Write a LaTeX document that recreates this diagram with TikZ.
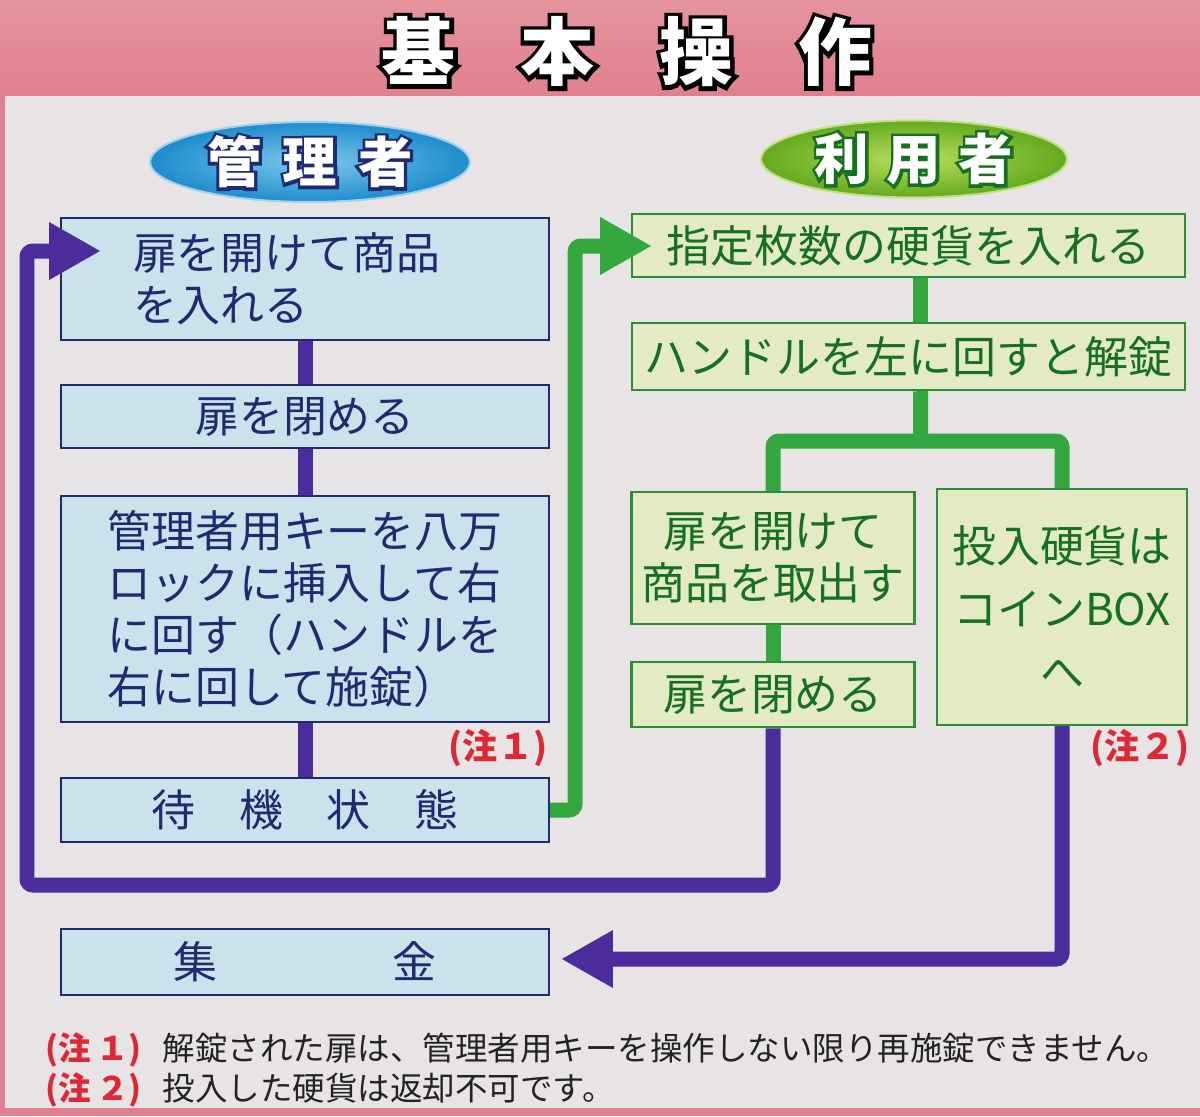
\documentclass[tikz,border=0pt]{standalone}
\usepackage{fontspec}
\usetikzlibrary{arrows.meta,shapes.geometric}
\newfontfamily\jp{Noto Sans CJK JP}
\newfontfamily\jprim{Noto Sans CJK JP}[FakeBold=11]
\definecolor{paper}{RGB}{232,228,229}
\definecolor{bandpink}{RGB}{224,128,142}
\definecolor{bandlight}{RGB}{238,208,212}
\definecolor{adminfill}{RGB}{200,227,235}
\definecolor{admintext}{RGB}{32,42,112}
\definecolor{adminblue}{RGB}{30,140,205}
\definecolor{adminsky}{RGB}{125,200,235}
\definecolor{adminrim}{RGB}{160,210,235}
\definecolor{userfill}{RGB}{228,234,196}
\definecolor{usertext}{RGB}{22,112,34}
\definecolor{userline}{RGB}{52,168,62}
\definecolor{userdark}{RGB}{100,170,30}
\definecolor{userlight}{RGB}{185,222,95}
\definecolor{userrim}{RGB}{190,225,130}
\definecolor{flowpurple}{RGB}{76,44,156}
\definecolor{notered}{RGB}{222,40,52}
\definecolor{footblack}{RGB}{35,35,35}
\newcommand{\boxFont}{\fontsize{25}{29.5}\selectfont}
\newcommand{\noteFont}{\fontsize{18.5}{22}\selectfont}
\newcommand{\titleText}{基\hspace{37pt}本\hspace{37pt}操\hspace{37pt}作}
\newcommand{\adminText}{管\hspace{12pt}理\hspace{12pt}者}
\newcommand{\userText}{利\hspace{10pt}用\hspace{10pt}者}

\begin{document}
\begin{tikzpicture}[x=0.02cm, y=-0.02cm]
  \tikzset{adminbox/.style={draw=admintext, line width=0.05cm, fill=adminfill,
      text=admintext, inner sep=0pt, font=\jp\boxFont},
    userbox/.style={draw=userline!85!black, line width=0.05cm, fill=userfill,
      text=usertext, inner sep=0pt, font=\jp\boxFont},
    purpleflow/.style={draw=flowpurple, line width=0.3cm, rounded corners=0.12cm},
    greenflow/.style={draw=userline, line width=0.3cm, rounded corners=0.12cm},
    bigtip/.style={-{Triangle[length=1.04cm,width=1.08cm]}},
    notemark/.style={text=notered, font=\jp\bfseries\fontsize{20}{24}\selectfont},
    titlefont/.style={font=\bfseries\fontsize{42}{46}\selectfont},
    tagfont/.style={font=\bfseries\fontsize{31}{31}\selectfont}}
  \useasboundingbox (0,0) rectangle (1200,1116);
  \fill[paper] (0,0) rectangle (1200,1116);
  \shade[top color=bandpink!85, middle color=bandlight, bottom color=bandpink] (0,0) rectangle (1200,95);
  \fill[bandpink] (0,95) rectangle (5,1116);
  \fill[bandpink] (0,1108) rectangle (1200,1116);

  % title with dark rim
  \node[titlefont, text=black] (titleRim) at (627,52) {\jprim\titleText};
  \node[titlefont, text=white] (title) at (627,52) {\jp\titleText};

  \node[ellipse, minimum width=6.4cm, minimum height=1.6cm, inner color=adminsky,
    outer color=adminblue, draw=adminrim, line width=0.04cm] (adminTag) at (310,162) {};
  \node[tagfont, text=admintext] (adminRim) at (adminTag) {\jprim\adminText};
  \node[tagfont, text=white] (adminName) at (adminTag) {\jp\adminText};
  \node[ellipse, minimum width=6.12cm, minimum height=1.54cm, inner color=userlight,
    outer color=userdark, draw=userrim, line width=0.04cm] (userTag) at (914,159) {};
  \node[tagfont, text=usertext] (userRim) at (userTag) {\jprim\userText};
  \node[tagfont, text=white] (userName) at (userTag) {\jp\userText};

  % admin side
  \node[adminbox, minimum width=9.76cm, minimum height=2.44cm, align=left, text width=6.88cm]
    (fillA) at (305,279) {扉を開けて商品\\を入れる};
  \node[adminbox, minimum width=9.76cm, minimum height=1.26cm] (closeA) at (305,416.5) {扉を閉める};
  \node[adminbox, minimum width=9.76cm, minimum height=4.52cm, align=left] (lockA) at (305,609)
    {管理者用キーを八万\\ロックに挿入して右\\に回す（ハンドルを\\右に回して施錠）};
  \node[adminbox, minimum width=9.76cm, minimum height=1.28cm] (standby) at (305,810) {待　機　状　態};
  \node[adminbox, minimum width=9.76cm, minimum height=1.32cm] (collect) at (305,962) {集　　　　金};

  % user side
  \node[userbox, minimum width=11.06cm, minimum height=1.26cm] (insert) at (908.5,245.5)
    {指定枚数の硬貨を入れる};
  \node[userbox, minimum width=11.06cm, minimum height=1.34cm] (unlock) at (908.5,356.5)
    {ハンドルを左に回すと解錠};
  \node[userbox, minimum width=5.66cm, minimum height=2.64cm, align=center] (takeout) at (773,558)
    {扉を開けて\\商品を取出す};
  \node[userbox, minimum width=5cm, minimum height=4.72cm, align=center,
    font=\jp\fontsize{25}{36}\selectfont] (coinbox) at (1062,607) {投入硬貨は\\コインBOX\\へ};
  \node[userbox, minimum width=5.66cm, minimum height=1.3cm] (closeB) at (773,694.5) {扉を閉める};

  \draw[purpleflow] (fillA) -- (closeA);
  \draw[purpleflow] (closeA) -- (lockA);
  \draw[purpleflow] (lockA) -- (standby);

  \coordinate (fork) at (920.5,441);
  \draw[greenflow] ([xshift=0.24cm]insert.south) -- ([xshift=0.24cm]unlock.north);
  \draw[greenflow] ([xshift=0.24cm]unlock.south) -- (fork);
  \draw[greenflow] (takeout.north) |- (fork) -| (coinbox.north);
  \draw[greenflow] (takeout) -- (closeB);

  \coordinate (greenTurn) at (575,246);
  \coordinate (insertTip) at (652,246);
  \draw[greenflow, bigtip] (standby.east) -| (greenTurn) -- (insertTip);

  \coordinate (loopLeft) at (27,885);
  \coordinate (fillTip) at (101,251);
  \draw[purpleflow, bigtip] (closeB.south) |- (loopLeft) |- (fillTip);
  \coordinate (collectTip) at (561,959);
  \draw[purpleflow, bigtip] (coinbox.south) |- (collectTip);

  \node[notemark] (noteOne) at (498,748) {(注１)};
  \node[notemark] (noteTwo) at (1140,748) {(注２)};

  \node[anchor=west, inner sep=0pt, text=footblack, font=\jp\noteFont] (footOne) at (45,1050)
    {\textcolor{notered}{\bfseries(注\,１)}\hspace{12pt}解錠された扉は、管理者用キーを操作しない限り再施錠できません。};
  \node[anchor=west, inner sep=0pt, text=footblack, font=\jp\noteFont] (footTwo) at (45,1090)
    {\textcolor{notered}{\bfseries(注\,２)}\hspace{12pt}投入した硬貨は返却不可です。};
\end{tikzpicture}
\end{document}
